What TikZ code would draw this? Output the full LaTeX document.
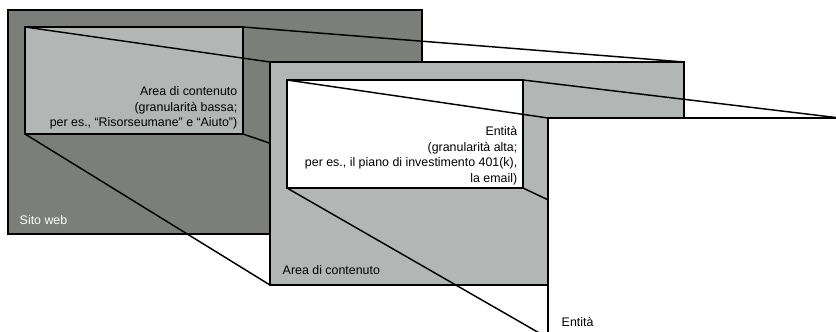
\documentclass[tikz,border=0pt]{standalone}
\usepackage{fontspec}
\setmainfont{Liberation Sans}
\definecolor{sitegray}{HTML}{7B7E79}
\definecolor{areagray}{HTML}{B2B7B5}
\begin{document}
\begin{tikzpicture}[x=.75pt,y=-.75pt,line width=1.1pt,
	box/.style={draw=black,rectangle,inner sep=0pt,outer sep=0pt,anchor=north west},
	sitebox/.style={box,fill=sitegray},
	areabox/.style={box,fill=areagray},
	entbox/.style={box,fill=white},
	lbl/.style={inner sep=0pt,font=\fontsize{9.3}{11.6}\selectfont}]
	\useasboundingbox (0,0) rectangle (836,332);
	\clip (0,0) rectangle (836,332);
	\node[sitebox,minimum width=310.5pt,minimum height=168pt] (site) at (8,10) {};
	\node[areabox,minimum width=163.5pt,minimum height=80.25pt] (areaS) at (25,27) {};
	\draw (areaS.north west)--(270,62) (areaS.north east)--(684,62);
	\draw (areaS.south west)--(270,285) (areaS.south east)--(684,285);
	\node[areabox,minimum width=310.5pt,minimum height=167.25pt] (area) at (270,62) {};
	\node[entbox,minimum width=177pt,minimum height=81pt] (entS) at (287,80) {};
	\draw (entS.north west)--(548,118) (entS.north east)--(840,118);
	\draw (entS.south west)--(548,338) (entS.south east)--(840,338);
	\node[entbox,minimum width=219pt,minimum height=165pt] (ent) at (548,118) {};
	\node[lbl,align=right,anchor=north east] (areaSTxt) at (238,86) {Area di contenuto\\(granularità bassa;\\per es., “Risorseumane” e “Aiuto”)};
	\node[lbl,align=right,anchor=north east] (entSTxt) at (518,126) {Entità\\(granularità alta;\\per es., il piano di investimento 401(k),\\la email)};
	\node[lbl,text=white,anchor=west] (siteTxt) at (19,220) {Sito web};
	\node[lbl,anchor=west] (areaTxt) at (282,270) {Area di contenuto};
	\node[lbl,anchor=west] (entTxt) at (561,322) {Entità};
\end{tikzpicture}
\end{document}
